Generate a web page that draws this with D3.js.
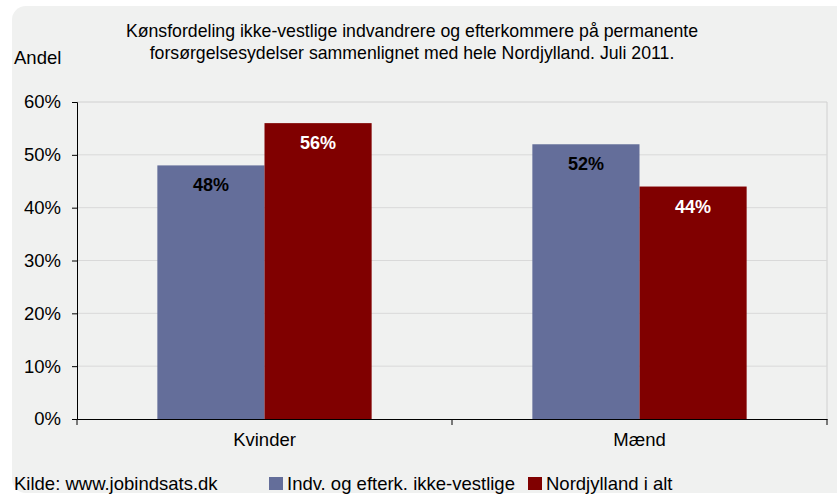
<!DOCTYPE html>
<html>
<head>
<meta charset="utf-8">
<style>
  body { margin: 0; background: #fff; }
  text { font-family: "Liberation Sans", Arial, sans-serif; }
</style>
<script src="https://cdn.jsdelivr.net/npm/d3@7"></script>
</head>
<body>
<svg id="chart" width="837" height="495"></svg>
<script>
const categories = ["Kvinder", "Mænd"];
const seriesNames = ["Indv. og efterk. ikke-vestlige", "Nordjylland i alt"];
const immigrants = [48, 52];
const region = [56, 44];
const yTicks = [0, 10, 20, 30, 40, 50, 60];
const colors = ["#646e9a", "#800000"];
const labelColors = ["#000", "#fff"];

const svg = d3.select("#chart");
const font = "'Liberation Sans', Arial, sans-serif";

// panel background
svg.append("rect")
  .attr("x", 12).attr("y", 6)
  .attr("width", 840).attr("height", 487)
  .attr("rx", 14)
  .attr("fill", "#f0f1f0");

const margin = { left: 77, right: 827, top: 102, bottom: 419 };

const x = d3.scaleBand().domain(categories).range([margin.left, margin.right]);
const x1 = d3.scaleBand().domain([0, 1]).range([0, x.bandwidth()]).paddingOuter(0.75).paddingInner(0);
const y = d3.scaleLinear().domain([0, 60]).range([margin.bottom, margin.top]);

// plot border (top/right)
svg.append("path")
  .attr("d", `M${margin.left},${margin.top}H${margin.right}V${margin.bottom}`)
  .attr("fill", "none").attr("stroke", "#d0d0d0");

// gridlines
svg.append("g").selectAll("line")
  .data(yTicks.filter(d => d > 0 && d < 60))
  .join("line")
  .attr("x1", margin.left).attr("x2", margin.right)
  .attr("y1", d => y(d)).attr("y2", d => y(d))
  .attr("stroke", "#d9d9d9");

// bars
const series = [immigrants, region];
const g = svg.append("g");
series.forEach((vals, si) => {
  g.append("g").selectAll("rect")
    .data(vals)
    .join("rect")
    .attr("x", (d, i) => x(categories[i]) + x1(si))
    .attr("width", x1.bandwidth())
    .attr("y", d => y(d))
    .attr("height", d => y(0) - y(d))
    .attr("fill", colors[si]);
  g.append("g").selectAll("text")
    .data(vals)
    .join("text")
    .attr("x", (d, i) => x(categories[i]) + x1(si) + x1.bandwidth() / 2)
    .attr("y", d => y(d) + 26)
    .attr("text-anchor", "middle")
    .attr("font-size", 18)
    .attr("font-weight", "bold")
    .attr("fill", labelColors[si])
    .text(d => d + "%");
});

// y axis
const yAxis = svg.append("g")
  .attr("transform", `translate(${margin.left},0)`)
  .call(d3.axisLeft(y).tickValues(yTicks).tickFormat(d => d + "%").tickSize(5).tickPadding(11));
yAxis.select(".domain").attr("stroke", "#000");
yAxis.selectAll("text").attr("font-size", 18.5).attr("fill", "#000").style("font-family", font);

// x axis
const xAxis = svg.append("g")
  .attr("transform", `translate(0,${margin.bottom})`)
  .call(d3.axisBottom(x).tickSize(0).tickPadding(14));
xAxis.select(".domain").attr("stroke", "#000");
xAxis.selectAll("text").attr("font-size", 18.5).attr("fill", "#000").style("font-family", font);
// category separators
xAxis.append("g").selectAll("line")
  .data([margin.left, x(categories[1]), margin.right])
  .join("line")
  .attr("x1", d => d).attr("x2", d => d)
  .attr("y1", 0).attr("y2", 6)
  .attr("stroke", "#000");

// title
const title = svg.append("text")
  .attr("x", 412).attr("y", 37)
  .attr("text-anchor", "middle")
  .attr("font-size", 17.7)
  .attr("fill", "#000");
title.append("tspan").attr("x", 412).text("Kønsfordeling ikke-vestlige indvandrere og efterkommere på permanente");
title.append("tspan").attr("x", 412).attr("dy", 21.5).text("forsørgelsesydelser sammenlignet med hele Nordjylland. Juli 2011.");

svg.append("text")
  .attr("x", 14).attr("y", 64)
  .attr("font-size", 18.5)
  .text("Andel");

// source and legend
svg.append("text")
  .attr("x", 14).attr("y", 490)
  .attr("font-size", 18.5)
  .text("Kilde: www.jobindsats.dk");

const legendX = [269, 528];
const legend = svg.append("g");
seriesNames.forEach((name, i) => {
  legend.append("rect")
    .attr("x", legendX[i]).attr("y", 477)
    .attr("width", 14).attr("height", 13)
    .attr("fill", colors[i]);
  legend.append("text")
    .attr("x", legendX[i] + 18).attr("y", 490)
    .attr("font-size", 18.5)
    .text(name);
});
</script>
</body>
</html>
